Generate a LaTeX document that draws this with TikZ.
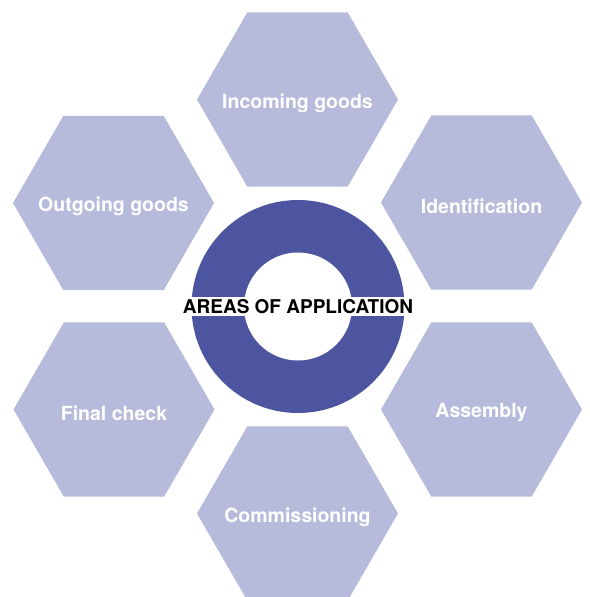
\documentclass[tikz,border=0pt]{standalone}
\usepackage{fontspec}
\setsansfont{TeX Gyre Heros}
\usetikzlibrary{shapes}

\definecolor{hexfill}{RGB}{183,187,219}
\definecolor{ringblue}{RGB}{78,85,160}

\begin{document}
\begin{tikzpicture}[
        x=1pt, y=-1pt,
        area/.style={regular polygon, regular polygon sides=6, minimum size=201pt, inner sep=0pt, fill=hexfill,
            label={[areatext]center:#1}},
        areatext/.style={text=white, yshift=-3.5pt, font=\sffamily\bfseries\fontsize{19.5}{22}\selectfont},
        ring/.style={circle, fill=ringblue, minimum size=213pt, inner sep=0pt},
        title/.style={fill=white, inner xsep=2pt, inner ysep=2.5pt, text=black, font=\sffamily\bfseries\fontsize{19}{21}\selectfont}
    ]
        \useasboundingbox (0,0) rectangle (589,597);

        % Centre ring with its hole
        \node (hub) [ring] at (298,306.5) {};
        \fill [white] (hub.center) circle (54);
        \node (title) [title] at (hub.center) {AREAS OF APPLICATION};

        % Application areas around the ring
        \node (incoming) [area=Incoming goods] at (297.5,99.5) {};
        \node (ident) [area=Identification] at (481.5,202.5) {};
        \node (assembly) [area=Assembly] at (481.5,409.5) {};
        \node (commission) [area=Commissioning] at (297.5,513.5) {};
        \node (final) [area=Final check] at (114,409.5) {};
        \node (outgoing) [area=Outgoing goods] at (113.5,203) {};

    \end{tikzpicture}
\end{document}
